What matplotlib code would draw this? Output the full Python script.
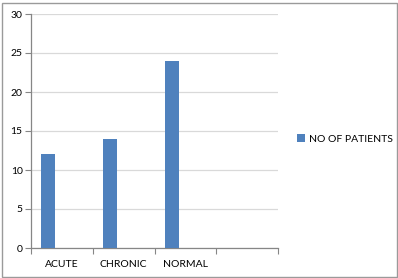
import matplotlib.pyplot as plt
from matplotlib.patches import Rectangle
import numpy as np

# Data
categories = ["ACUTE", "CHRONIC", "NORMAL", ""]
patients = [12, 14, 24, None]
series_name = "NO OF PATIENTS"
y_ticks = [0, 5, 10, 15, 20, 25, 30]

plt.rcParams["font.family"] = ["Lato", "DejaVu Sans"]

fig = plt.figure(figsize=(3.98, 2.78), dpi=100)
ax = fig.add_axes([31 / 398, 30 / 278, 247 / 398, 234 / 278])

# Excel-style clustered layout: 3 series slots per category, gap 150%
bar_w = 1 / 4.5
x = np.arange(len(categories))
vals = [v if v is not None else 0 for v in patients]
bars = ax.bar(x + 0.75 * bar_w, vals, width=bar_w, align="edge",
              color="#4F81BD", label=series_name, zorder=3)

ax.set_xlim(0, len(categories))
ax.set_ylim(0, 30)
ax.set_yticks(y_ticks)
ax.set_yticklabels([str(t) for t in y_ticks], fontsize=7.5)
ax.yaxis.grid(True, color="#D9D9D9", linewidth=0.9, zorder=0)

# x ticks at category boundaries, labels centered
ax.set_xticks(np.arange(len(categories) + 1))
ax.set_xticklabels([])
ax.set_xticks(x + 0.5, minor=True)
ax.set_xticklabels(categories, minor=True, fontsize=7.5)
ax.tick_params(axis="x", which="major", length=4, color="#868686", direction="out")
ax.tick_params(axis="x", which="minor", length=0, pad=8.5)
ax.tick_params(axis="y", length=4, color="#868686", pad=2)

for s in ["top", "right"]:
    ax.spines[s].set_visible(False)
for s in ["left", "bottom"]:
    ax.spines[s].set_color("#868686")
    ax.spines[s].set_linewidth(0.9)

ax.legend(loc="center left", bbox_to_anchor=(292 / 398, 139 / 278),
          bbox_transform=fig.transFigure, frameon=False, fontsize=7.5,
          handlelength=0.7, handleheight=0.7, handletextpad=0.4, borderpad=0)

# outer chart border
fig.patches.append(Rectangle((1.5 / 398, 1.5 / 278), 395 / 398, 274 / 278,
                             transform=fig.transFigure, fill=False,
                             edgecolor="#9A9A9A", linewidth=1))

fig.savefig("out.png", dpi=100)
